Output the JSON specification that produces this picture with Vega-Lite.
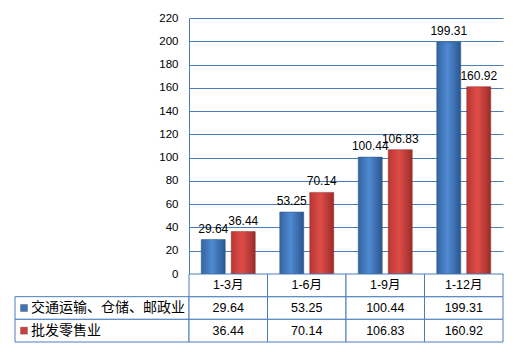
{
  "$schema": "https://vega.github.io/schema/vega-lite/v6.json",
  "background": "white",
  "padding": {"left": 14, "top": 12, "right": 0, "bottom": 0},
  "config": {"view": {"stroke": null}, "font": "Liberation Sans, Noto Sans CJK SC"},
  "datasets": {
    "bars": [
      {"cat": "1-3月", "series": "交通运输、仓储、邮政业", "value": 29.64},
      {"cat": "1-3月", "series": "批发零售业", "value": 36.44},
      {"cat": "1-6月", "series": "交通运输、仓储、邮政业", "value": 53.25},
      {"cat": "1-6月", "series": "批发零售业", "value": 70.14},
      {"cat": "1-9月", "series": "交通运输、仓储、邮政业", "value": 100.44},
      {"cat": "1-9月", "series": "批发零售业", "value": 106.83},
      {"cat": "1-12月", "series": "交通运输、仓储、邮政业", "value": 199.31},
      {"cat": "1-12月", "series": "批发零售业", "value": 160.92}
    ],
    "cats": [{"cat": "1-3月"}, {"cat": "1-6月"}, {"cat": "1-9月"}, {"cat": "1-12月"}],
    "series": [{"series": "交通运输、仓储、邮政业"}, {"series": "批发零售业"}]
  },
  "columns": 2,
  "spacing": 0,
  "bounds": "flush",
  "concat": [
    {
      "width": 174,
      "height": 256,
      "data": {"values": [{}]},
      "mark": {"type": "text"},
      "encoding": {"text": {"value": ""}}
    },
    {
      "width": 314,
      "height": 256,
      "data": {"name": "bars"},
      "encoding": {
        "x": {"field": "cat", "type": "nominal", "sort": ["1-3月", "1-6月", "1-9月", "1-12月"], "scale": {"paddingInner": 0, "paddingOuter": 0}, "axis": null},
        "xOffset": {"field": "series", "type": "nominal", "sort": ["交通运输、仓储、邮政业", "批发零售业"], "scale": {"paddingInner": 0.2, "paddingOuter": 0.408}},
        "y": {
          "field": "value", "type": "quantitative",
          "scale": {"domain": [0, 220], "nice": false},
          "axis": {"values": [0, 20, 40, 60, 80, 100, 120, 140, 160, 180, 200, 220], "grid": true, "gridColor": "#4a7ebb", "gridOpacity": 1, "domainColor": "#4a7ebb", "ticks": false, "labelPadding": 11, "labelFontSize": 11.5, "labelColor": "#000", "title": null}
        }
      },
      "layer": [
        {
          "transform": [{"filter": "datum.series == '交通运输、仓储、邮政业'"}],
          "mark": {"type": "bar", "stroke": "#2c5289", "strokeWidth": 0.5, "color": {"gradient": "linear", "x1": 0, "y1": 0, "x2": 1, "y2": 0, "stops": [{"offset": 0, "color": "#34649f"}, {"offset": 0.45, "color": "#4f8ad3"}, {"offset": 1, "color": "#2b5690"}]}}
        },
        {
          "transform": [{"filter": "datum.series == '批发零售业'"}],
          "mark": {"type": "bar", "stroke": "#8e2a27", "strokeWidth": 0.5, "color": {"gradient": "linear", "x1": 0, "y1": 0, "x2": 1, "y2": 0, "stops": [{"offset": 0, "color": "#b83734"}, {"offset": 0.45, "color": "#df4d48"}, {"offset": 1, "color": "#9c2c29"}]}}
        },
        {
          "mark": {"type": "text", "baseline": "bottom", "dy": -4, "fontSize": 12, "color": "#000"},
          "encoding": {"text": {"field": "value", "type": "quantitative", "format": ".2f"}}
        }
      ]
    },
    {
      "width": 174,
      "height": 68,
      "data": {"name": "series"},
      "encoding": {
        "y": {"field": "series", "type": "nominal", "scale": {"domain": ["header", "交通运输、仓储、邮政业", "批发零售业"], "paddingInner": 0, "paddingOuter": 0}, "axis": null}
      },
      "layer": [
        {"mark": {"type": "rect", "fill": "white", "stroke": "#4a7ebb", "strokeWidth": 1}},
        {
          "mark": {"type": "square", "size": 49, "filled": true, "opacity": 1, "xOffset": -78, "stroke": "#333", "strokeWidth": 0.3},
          "encoding": {"color": {"field": "series", "type": "nominal", "scale": {"domain": ["交通运输、仓储、邮政业", "批发零售业"], "range": ["#3f74b8", "#c9403c"]}, "legend": null}}
        },
        {
          "mark": {"type": "text", "align": "left", "dx": -71, "fontSize": 14, "font": "Noto Sans CJK SC", "color": "#000"},
          "encoding": {"text": {"field": "series"}}
        }
      ]
    },
    {
      "width": 314,
      "height": 68,
      "encoding": {
        "x": {"field": "cat", "type": "nominal", "sort": ["1-3月", "1-6月", "1-9月", "1-12月"], "scale": {"paddingInner": 0, "paddingOuter": 0}, "axis": null}
      },
      "layer": [
        {
          "data": {"name": "bars"},
          "encoding": {"y": {"field": "series", "type": "nominal", "scale": {"domain": ["header", "交通运输、仓储、邮政业", "批发零售业"], "paddingInner": 0, "paddingOuter": 0}, "axis": null}},
          "layer": [
            {"mark": {"type": "rect", "fill": "white", "stroke": "#4a7ebb", "strokeWidth": 1}},
            {"mark": {"type": "text", "fontSize": 12.5, "color": "#000"}, "encoding": {"text": {"field": "value", "type": "quantitative", "format": ".2f"}}}
          ]
        },
        {
          "data": {"name": "cats"},
          "encoding": {"y": {"datum": "header", "type": "nominal"}},
          "layer": [
            {"mark": {"type": "rect", "fill": "white", "stroke": "#4a7ebb", "strokeWidth": 1}},
            {"mark": {"type": "text", "fontSize": 12.5, "color": "#000"}, "encoding": {"text": {"field": "cat"}}}
          ]
        }
      ]
    }
  ]
}
